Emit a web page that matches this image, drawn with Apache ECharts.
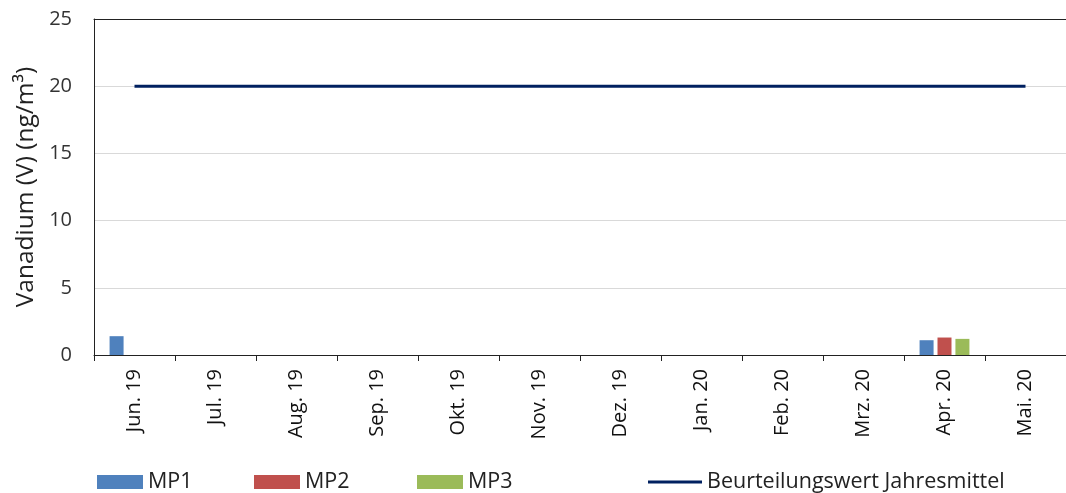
<!DOCTYPE html>
<html>
<head>
<meta charset="utf-8">
<script src="https://cdn.jsdelivr.net/npm/echarts@6/dist/echarts.min.js"></script>
<style>html,body{margin:0;padding:0;background:#fff;}#c{width:1066px;height:493px;}</style>
</head>
<body>
<div id="c"></div>
<script>
var categories = ['Jun. 19','Jul. 19','Aug. 19','Sep. 19','Okt. 19','Nov. 19','Dez. 19','Jan. 20','Feb. 20','Mrz. 20','Apr. 20','Mai. 20'];
var mp1 = [1.4, null, null, null, null, null, null, null, null, null, 1.1, null];
var mp2 = [null, null, null, null, null, null, null, null, null, null, 1.3, null];
var mp3 = [null, null, null, null, null, null, null, null, null, null, 1.2, null];
var beurteilungswert = [20, 20, 20, 20, 20, 20, 20, 20, 20, 20, 20, 20];
var yTicks = {min: 0, max: 25, interval: 5};

var FONT = 'Open Sans';
var chart = echarts.init(document.getElementById('c'));
var legendBase = {top: 471, padding: 0, itemWidth: 46, itemHeight: 14, textStyle: {fontFamily: FONT, fontSize: 21.5, color: '#222'}, itemGap: 5, selectedMode: false};
chart.setOption({
  animation: false,
  textStyle: {fontFamily: FONT},
  grid: {left: 94, top: 19, width: 974, bottom: 138},
  legend: [
    Object.assign({}, legendBase, {left: 97, data: [{name: 'MP1', icon: 'rect'}]}),
    Object.assign({}, legendBase, {left: 254, data: [{name: 'MP2', icon: 'rect'}]}),
    Object.assign({}, legendBase, {left: 417, data: [{name: 'MP3', icon: 'rect'}]}),
    Object.assign({}, legendBase, {left: 648, itemWidth: 54, itemHeight: 3, data: [{name: 'Beurteilungswert Jahresmittel', icon: 'rect'}]})
  ],
  xAxis: [{
    type: 'category',
    data: categories,
    boundaryGap: true,
    axisLine: {lineStyle: {color: '#222', width: 1}},
    axisTick: {show: true, length: 6, interval: 0, lineStyle: {color: '#222'}},
    axisLabel: {rotate: 90, interval: 0, margin: 14, fontSize: 20, color: '#111', fontFamily: FONT}
  }, {
    type: 'category',
    data: categories,
    position: 'top',
    axisLine: {show: true, lineStyle: {color: '#222', width: 1}},
    axisTick: {show: false},
    axisLabel: {show: false}
  }],
  yAxis: {
    type: 'value',
    min: yTicks.min, max: yTicks.max, interval: yTicks.interval,
    name: 'Vanadium (V) (ng/m³)',
    nameLocation: 'middle',
    nameGap: 55,
    nameTextStyle: {fontSize: 24.5, color: '#222', fontFamily: FONT},
    axisLine: {show: true, lineStyle: {color: '#222', width: 1}},
    axisTick: {show: false},
    axisLabel: {fontSize: 20, color: '#333', margin: 22, fontFamily: FONT},
    splitLine: {lineStyle: {color: '#d9d9d9', width: 1}}
  },
  series: [
    {name: 'MP1', type: 'bar', data: mp1, barWidth: 14, barGap: '28%', itemStyle: {color: '#4f81bd'}},
    {name: 'MP2', type: 'bar', data: mp2, barWidth: 14, barGap: '28%', itemStyle: {color: '#c0504d'}},
    {name: 'MP3', type: 'bar', data: mp3, barWidth: 14, barGap: '28%', itemStyle: {color: '#9bbb59'}},
    {name: 'Beurteilungswert Jahresmittel', type: 'line', data: beurteilungswert, symbol: 'none', showSymbol: false,
     lineStyle: {color: '#002060', width: 3}, itemStyle: {color: '#002060'}}
  ]
});
</script>
</body>
</html>
